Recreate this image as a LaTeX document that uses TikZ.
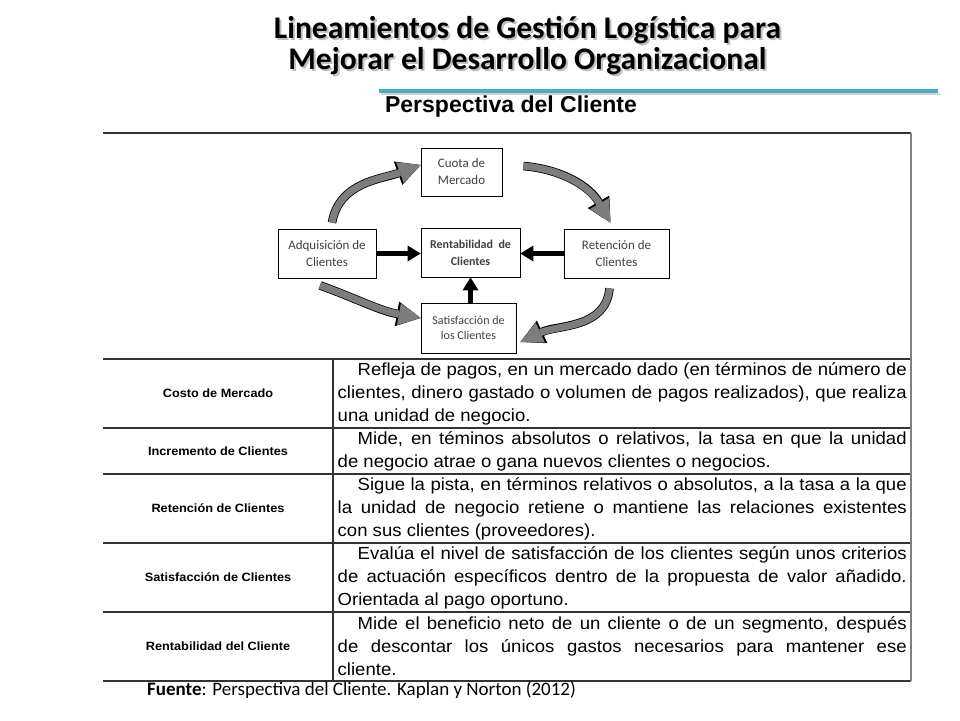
\documentclass[tikz,border=0pt]{standalone}
\usepackage{fontspec}
\setmainfont{Carlito}
\newfontfamily\arialfont{Liberation Sans}
\newfontfamily\tablefont[FakeStretch=1.06]{Liberation Sans}
\usepackage{tikz}
\usetikzlibrary{arrows.meta,positioning}
\definecolor{swooshgray}{RGB}{125,125,125}
\definecolor{rulecolor}{RGB}{75,172,198}
\definecolor{boxtext}{RGB}{64,64,64}

\begin{document}
\begin{tikzpicture}[x=1pt, y=1pt]
        \tikzstyle{box} = [rectangle, draw, line width=0.8pt, text=boxtext, align=center, inner sep=0pt, font=\fontsize{13}{17}\selectfont]
        \tikzstyle{thickarrow} = [-{Triangle[width=16pt,length=13pt,line width=0pt]}, line width=4.5pt]
        \tikzstyle{swooshline} = [draw=swooshgray, line width=7pt, -{Triangle[width=22pt,length=22pt,line width=0pt]},
            preaction={draw=black, line width=8.6pt, -{Triangle[width=25pt,length=24pt,line width=0pt]}}]
        \tikzstyle{title} = [align=center, font=\bfseries\fontsize{31.5}{31}\selectfont]
        \tikzstyle{rowlabel} = [font=\tablefont\bfseries\fontsize{12}{14}\selectfont]
        \tikzstyle{celltext} = [anchor=west, align=justify, text width=569pt, inner xsep=4.5pt, inner ysep=0pt, font=\tablefont\fontsize{17.5}{23}\selectfont]
        \tikzstyle{tableline} = [line width=1.4pt, black!80]

        \useasboundingbox (0,0) rectangle (960,-720);

        % heading
        \node (titleshadow) [title, text=gray!50] at (529.5,-48) {Lineamientos de Gestión Logística para\\Mejorar el Desarrollo Organizacional};
        \node (title) [title] at (527.5,-46) {Lineamientos de Gestión Logística para\\Mejorar el Desarrollo Organizacional};
        \draw[line width=2pt, gray!35] (381,-94) -- (940,-94);
        \draw[line width=4pt, rulecolor] (379,-91) -- (938,-91);
        \node (subtitle) [font=\arialfont\bfseries\fontsize{23}{26}\selectfont] at (511,-107) {Perspectiva del Cliente};

        % cycle diagram
        \node (cuota) [box, minimum width=81pt, minimum height=48pt] at (461.5,-172) {Cuota de\\Mercado};
        \node (adq) [box, minimum width=98pt, minimum height=49pt] at (327,-253.5) {Adquisición de\\Clientes};
        \node (rent) [box, minimum width=99pt, minimum height=49pt, font=\bfseries\fontsize{12}{17}\selectfont] at (470.5,-252.5) {Rentabilidad~ de\\Clientes};
        \node (ret) [box, minimum width=105pt, minimum height=49pt] at (616.5,-253.5) {Retención de\\Clientes};
        \node (sat) [box, minimum width=95pt, minimum height=50pt, font=\fontsize{12}{15}\selectfont] at (468.5,-328) {Satisfacción de\\los Clientes};

        \draw[thickarrow] (adq.east) -- (adq.east -| rent.west);
        \draw[thickarrow] (ret.west) -- (ret.west -| rent.east);
        \draw[thickarrow] (rent.south |- sat.north) -- (rent.south);

        \draw[swooshline] ([xshift=5pt,yshift=6pt]adq.north) to[out=80,in=200] ([yshift=7pt]cuota.west);
        \draw[swooshline] ([xshift=21pt,yshift=6pt]cuota.east) to[out=-5,in=120] ([xshift=-6pt,yshift=6pt]ret.north);
        \draw[swooshline] ([xshift=-7pt,yshift=-10pt]ret.south) to[out=-95,in=25] ([xshift=4pt,yshift=-14pt]sat.east);
        \draw[swooshline] ([xshift=-7pt,yshift=-7pt]adq.south) to[out=-20,in=170] ([yshift=10pt]sat.west);

        % table
        \draw[tableline] (103,-133) -- (911,-133);
        \foreach \y in {359,428,474,543,612,681}
            \draw[tableline] (103,-\y) -- (911,-\y);
        \draw[tableline] (333,-359) -- (333,-681);
        \draw[line width=2pt, gray] (911,-133) -- (911,-681);

        \node (lcosto) [rowlabel] at (218,-393.5) {Costo de Mercado};
        \node (lincr) [rowlabel] at (218,-451) {Incremento de Clientes};
        \node (lret) [rowlabel] at (218,-508.5) {Retención de Clientes};
        \node (lsat) [rowlabel] at (218,-577.5) {Satisfacción de Clientes};
        \node (lrent) [rowlabel] at (218,-646.5) {Rentabilidad del Cliente};

        \node (tcosto) [celltext] at (333,-393.5) {\hspace*{20pt}Refleja de pagos, en un mercado dado (en términos de número de\linebreak clientes, dinero gastado o volumen de pagos realizados), que realiza\linebreak una unidad de negocio.};
        \node (tincr) [celltext] at (333,-451) {\hspace*{20pt}Mide, en téminos absolutos o relativos, la tasa en que la unidad\linebreak de negocio atrae o gana nuevos clientes o negocios.};
        \node (tret) [celltext] at (333,-508.5) {\hspace*{20pt}Sigue la pista, en términos relativos o absolutos, a la tasa a la que\linebreak la unidad de negocio retiene o mantiene las relaciones existentes\linebreak con sus clientes (proveedores).};
        \node (tsat) [celltext] at (333,-577.5) {\hspace*{20pt}Evalúa el nivel de satisfacción de los clientes según unos criterios\linebreak de actuación específicos dentro de la propuesta de valor añadido.\linebreak Orientada al pago oportuno.};
        \node (trent) [celltext] at (333,-646.5) {\hspace*{20pt}Mide el beneficio neto de un cliente o de un segmento, después\linebreak de descontar los únicos gastos necesarios para mantener ese\linebreak cliente.};

        \node (source) [anchor=west, inner sep=0pt, font=\fontsize{19}{20}\selectfont] at (147,-690.5) {\textbf{Fuente}: Perspectiva del Cliente. Kaplan y Norton (2012)};
\end{tikzpicture}
\end{document}
